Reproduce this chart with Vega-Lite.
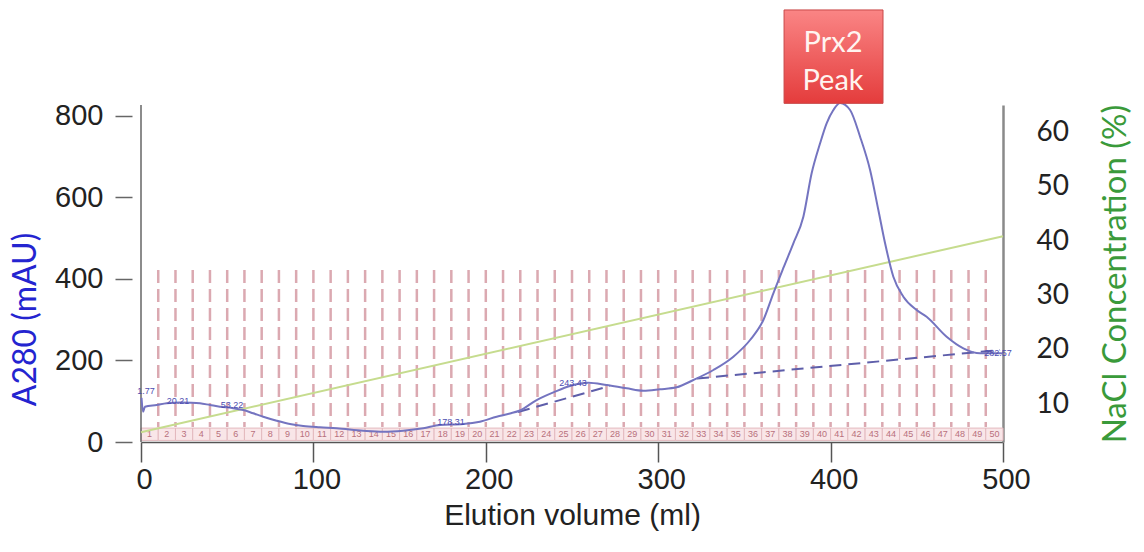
{
  "$schema": "https://vega.github.io/schema/vega-lite/v6.json",
  "width": 862,
  "height": 337,
  "autosize": {"type": "none"},
  "padding": {"left": 141, "top": 105, "right": 141, "bottom": 110},
  "background": "white",
  "config": {
    "view": {"stroke": null},
    "axis": {"grid": false},
    "axisX": {
      "domainColor": "#555555", "domainWidth": 1.5,
      "tickColor": "#555555", "tickWidth": 1.5, "tickSize": 20, "tickCount": 6,
      "labelFont": "Liberation Sans", "labelFontSize": 29, "labelColor": "#222222",
      "labelPadding": 3, "labelFlush": false, "labelOffset": 3,
      "titleFont": "Liberation Sans", "titleFontSize": 30, "titleFontWeight": "normal",
      "titleColor": "#222222", "titlePadding": 6
    }
  },
  "datasets": {
    "a280": [
      {"ml": 0.3, "a280": 108}, {"ml": 1.2, "a280": 74}, {"ml": 2.3, "a280": 86.5},
      {"ml": 9.1, "a280": 90.7}, {"ml": 14.9, "a280": 94.9}, {"ml": 22.6, "a280": 96.8},
      {"ml": 29.4, "a280": 96.3}, {"ml": 34.2, "a280": 94.9}, {"ml": 40.0, "a280": 90.7},
      {"ml": 45.8, "a280": 86.5}, {"ml": 52.8, "a280": 83.3}, {"ml": 59.3, "a280": 78.4},
      {"ml": 65.1, "a280": 70.3}, {"ml": 70.9, "a280": 62.0}, {"ml": 78.7, "a280": 52.2},
      {"ml": 86.4, "a280": 44.1}, {"ml": 94.1, "a280": 39.2}, {"ml": 103.8, "a280": 36.0},
      {"ml": 113.5, "a280": 33.6}, {"ml": 128.9, "a280": 27.7}, {"ml": 140.5, "a280": 25.2},
      {"ml": 152.1, "a280": 27.7}, {"ml": 163.7, "a280": 33.6}, {"ml": 173.4, "a280": 41.7},
      {"ml": 186.9, "a280": 44.1}, {"ml": 196.6, "a280": 49.8}, {"ml": 206.3, "a280": 62.0},
      {"ml": 214.0, "a280": 69.9}, {"ml": 219.8, "a280": 77.2}, {"ml": 229.5, "a280": 102.9},
      {"ml": 240.1, "a280": 123.3}, {"ml": 248.8, "a280": 137.3}, {"ml": 259.5, "a280": 145.3},
      {"ml": 270.1, "a280": 139.7}, {"ml": 281.7, "a280": 131.6}, {"ml": 291.4, "a280": 125.7},
      {"ml": 301.0, "a280": 129.2}, {"ml": 310.7, "a280": 134.1}, {"ml": 320.4, "a280": 152.0},
      {"ml": 332.0, "a280": 176.5}, {"ml": 343.6, "a280": 209.1}, {"ml": 353.3, "a280": 250.0},
      {"ml": 361.0, "a280": 299.0}, {"ml": 366.8, "a280": 364.5}, {"ml": 372.6, "a280": 426.5},
      {"ml": 378.4, "a280": 487.0}, {"ml": 384.2, "a280": 552.2}, {"ml": 389.0, "a280": 658.6},
      {"ml": 393.9, "a280": 732.1}, {"ml": 397.7, "a280": 781.1}, {"ml": 401.6, "a280": 813.7},
      {"ml": 405.5, "a280": 830.9}, {"ml": 411.3, "a280": 813.7}, {"ml": 417.1, "a280": 748.3},
      {"ml": 422.9, "a280": 666.7}, {"ml": 427.7, "a280": 568.6}, {"ml": 431.6, "a280": 487.0},
      {"ml": 436.4, "a280": 405.2}, {"ml": 442.2, "a280": 356.1}, {"ml": 449.9, "a280": 323.5},
      {"ml": 455.7, "a280": 307.1}, {"ml": 467.3, "a280": 258.1}, {"ml": 477.0, "a280": 229.7},
      {"ml": 486.7, "a280": 217.4}, {"ml": 498.3, "a280": 217.4}, {"ml": 500.0, "a280": 216.9}
    ],
    "baseline": [
      {"seg": "a", "ml": 218.7, "a280": 73.5}, {"seg": "a", "ml": 272.0, "a280": 137.3},
      {"seg": "b", "ml": 322.5, "a280": 155.6}, {"seg": "b", "ml": 498.3, "a280": 225.5}
    ],
    "nacl": [
      {"ml": 0, "nacl": 4.87}, {"ml": 500, "nacl": 40.92}
    ],
    "labels": [
      {"ml": 2.9, "a280": 125, "label": "1.77"},
      {"ml": 21.5, "a280": 100, "label": "20.21"},
      {"ml": 52.8, "a280": 90, "label": "53.22"},
      {"ml": 179.8, "a280": 49, "label": "178.31"},
      {"ml": 250.6, "a280": 145, "label": "243.43"},
      {"ml": 497.1, "a280": 218, "label": "282.57"}
    ],
    "fractions": [
      {"frac": 1, "start": 0, "end": 10, "mid": 5}, {"frac": 2, "start": 10, "end": 20, "mid": 15},
      {"frac": 3, "start": 20, "end": 30, "mid": 25}, {"frac": 4, "start": 30, "end": 40, "mid": 35},
      {"frac": 5, "start": 40, "end": 50, "mid": 45}, {"frac": 6, "start": 50, "end": 60, "mid": 55},
      {"frac": 7, "start": 60, "end": 70, "mid": 65}, {"frac": 8, "start": 70, "end": 80, "mid": 75},
      {"frac": 9, "start": 80, "end": 90, "mid": 85}, {"frac": 10, "start": 90, "end": 100, "mid": 95},
      {"frac": 11, "start": 100, "end": 110, "mid": 105}, {"frac": 12, "start": 110, "end": 120, "mid": 115},
      {"frac": 13, "start": 120, "end": 130, "mid": 125}, {"frac": 14, "start": 130, "end": 140, "mid": 135},
      {"frac": 15, "start": 140, "end": 150, "mid": 145}, {"frac": 16, "start": 150, "end": 160, "mid": 155},
      {"frac": 17, "start": 160, "end": 170, "mid": 165}, {"frac": 18, "start": 170, "end": 180, "mid": 175},
      {"frac": 19, "start": 180, "end": 190, "mid": 185}, {"frac": 20, "start": 190, "end": 200, "mid": 195},
      {"frac": 21, "start": 200, "end": 210, "mid": 205}, {"frac": 22, "start": 210, "end": 220, "mid": 215},
      {"frac": 23, "start": 220, "end": 230, "mid": 225}, {"frac": 24, "start": 230, "end": 240, "mid": 235},
      {"frac": 25, "start": 240, "end": 250, "mid": 245}, {"frac": 26, "start": 250, "end": 260, "mid": 255},
      {"frac": 27, "start": 260, "end": 270, "mid": 265}, {"frac": 28, "start": 270, "end": 280, "mid": 275},
      {"frac": 29, "start": 280, "end": 290, "mid": 285}, {"frac": 30, "start": 290, "end": 300, "mid": 295},
      {"frac": 31, "start": 300, "end": 310, "mid": 305}, {"frac": 32, "start": 310, "end": 320, "mid": 315},
      {"frac": 33, "start": 320, "end": 330, "mid": 325}, {"frac": 34, "start": 330, "end": 340, "mid": 335},
      {"frac": 35, "start": 340, "end": 350, "mid": 345}, {"frac": 36, "start": 350, "end": 360, "mid": 355},
      {"frac": 37, "start": 360, "end": 370, "mid": 365}, {"frac": 38, "start": 370, "end": 380, "mid": 375},
      {"frac": 39, "start": 380, "end": 390, "mid": 385}, {"frac": 40, "start": 390, "end": 400, "mid": 395},
      {"frac": 41, "start": 400, "end": 410, "mid": 405}, {"frac": 42, "start": 410, "end": 420, "mid": 415},
      {"frac": 43, "start": 420, "end": 430, "mid": 425}, {"frac": 44, "start": 430, "end": 440, "mid": 435},
      {"frac": 45, "start": 440, "end": 450, "mid": 445}, {"frac": 46, "start": 450, "end": 460, "mid": 455},
      {"frac": 47, "start": 460, "end": 470, "mid": 465}, {"frac": 48, "start": 470, "end": 480, "mid": 475},
      {"frac": 49, "start": 480, "end": 490, "mid": 485}, {"frac": 50, "start": 490, "end": 500, "mid": 495}
    ]
  },
  "layer": [
    {
      "layer": [
        {
          "data": {"name": "fractions"},
          "mark": {"type": "rect", "fill": "#f9e6e8", "stroke": "#e3b9be", "strokeWidth": 1},
          "encoding": {
            "x": {"field": "start", "type": "quantitative", "title": "Elution volume (ml)", "scale": {"domain": [0, 500], "nice": false, "zero": false}},
            "x2": {"field": "end"},
            "y": {"datum": 34.1, "type": "quantitative", "title": "A280 (mAU)", "scale": {"domain": [0, 826], "nice": false, "zero": false},
              "axis": {
                "orient": "left", "offset": 9, "domain": false, "ticks": true, "tickSize": 17,
                "tickColor": "#666666", "tickWidth": 1.5, "values": [0, 200, 400, 600, 800],
                "labelFont": "Liberation Sans", "labelFontSize": 29, "labelColor": "#222222", "labelPadding": 12,
                "title": "A280 (mAU)", "titleFont": "Lato", "titleFontSize": 32, "titleFontWeight": "normal",
                "titleColor": "#2424d0", "titlePadding": 12, "titleY": 214
              }},
            "y2": {"datum": 3.9}
          }
        },
        {
          "data": {"name": "fractions"},
          "mark": {"type": "text", "font": "Liberation Sans", "fontSize": 9, "color": "#b8707c", "align": "center", "baseline": "middle"},
          "encoding": {
            "x": {"field": "mid", "type": "quantitative", "title": "Elution volume (ml)", "scale": {"domain": [0, 500], "nice": false, "zero": false}},
            "y": {"datum": 19.6, "type": "quantitative", "title": "A280 (mAU)", "scale": {"domain": [0, 826], "nice": false, "zero": false}},
            "text": {"field": "frac", "type": "nominal"}
          }
        },
        {
          "data": {"name": "fractions"},
          "transform": [{"filter": "datum.frac < 50"}],
          "mark": {"type": "rule", "color": "#dba9b1", "strokeWidth": 2.5, "strokeDash": [13, 6]},
          "encoding": {
            "x": {"field": "end", "type": "quantitative", "title": "Elution volume (ml)", "scale": {"domain": [0, 500], "nice": false, "zero": false}},
            "y": {"datum": 421.6, "type": "quantitative", "title": "A280 (mAU)", "scale": {"domain": [0, 826], "nice": false, "zero": false}},
            "y2": {"datum": 36.8}
          }
        },
        {
          "data": {"values": [{}]},
          "mark": {"type": "rule", "color": "#666666", "strokeWidth": 1.5},
          "encoding": {
            "x": {"datum": 0, "type": "quantitative", "title": "Elution volume (ml)", "scale": {"domain": [0, 500], "nice": false, "zero": false}},
            "y": {"datum": 0, "type": "quantitative", "title": "A280 (mAU)", "scale": {"domain": [0, 826], "nice": false, "zero": false}},
            "y2": {"datum": 826}
          }
        }
      ]
    },
    {
      "data": {"name": "nacl"},
      "mark": {"type": "line", "color": "#c6dc8e", "strokeWidth": 2},
      "encoding": {
        "x": {"field": "ml", "type": "quantitative", "title": "Elution volume (ml)", "scale": {"domain": [0, 500], "nice": false, "zero": false}},
        "y": {"field": "nacl", "type": "quantitative", "scale": {"domain": [3.07, 65.04], "nice": false, "zero": false},
          "axis": {
            "orient": "right", "domain": true, "domainColor": "#8a8a8a", "domainWidth": 2.5, "ticks": false,
            "values": [10, 20, 30, 40, 50, 60],
            "labelFont": "Lato", "labelFontSize": 28, "labelColor": "#222222", "labelPadding": 33, "labelAlign": "left",
            "title": "NaCl Concentration (%)", "titleFont": "Lato", "titleFontSize": 33, "titleFontWeight": "normal",
            "titleColor": "#3a9a3a", "titleAngle": 270, "titlePadding": 64
          }}
      }
    },
    {
      "layer": [
        {
          "data": {"name": "baseline"},
          "mark": {"type": "line", "color": "#5e5eaa", "strokeWidth": 2, "strokeDash": [12, 7]},
          "encoding": {
            "x": {"field": "ml", "type": "quantitative", "title": "Elution volume (ml)", "scale": {"domain": [0, 500], "nice": false, "zero": false}},
            "y": {"field": "a280", "type": "quantitative", "scale": {"domain": [0, 826], "nice": false, "zero": false}, "axis": null},
            "detail": {"field": "seg"}
          }
        },
        {
          "data": {"name": "a280"},
          "mark": {"type": "line", "color": "#7474c0", "strokeWidth": 2, "interpolate": "monotone"},
          "encoding": {
            "x": {"field": "ml", "type": "quantitative", "title": "Elution volume (ml)", "scale": {"domain": [0, 500], "nice": false, "zero": false}},
            "y": {"field": "a280", "type": "quantitative", "scale": {"domain": [0, 826], "nice": false, "zero": false}, "axis": null}
          }
        },
        {
          "data": {"name": "labels"},
          "mark": {"type": "text", "font": "Liberation Sans", "fontSize": 9, "color": "#4c4cb0", "align": "center", "baseline": "middle"},
          "encoding": {
            "x": {"field": "ml", "type": "quantitative", "title": "Elution volume (ml)", "scale": {"domain": [0, 500], "nice": false, "zero": false}},
            "y": {"field": "a280", "type": "quantitative", "scale": {"domain": [0, 826], "nice": false, "zero": false}, "axis": null},
            "text": {"field": "label", "type": "nominal"}
          }
        },
        {
          "data": {"values": [{}]},
          "mark": {"type": "rect", "stroke": "#c94848", "strokeWidth": 1,
            "fill": {"gradient": "linear", "x1": 0, "y1": 0, "x2": 0, "y2": 1,
              "stops": [{"offset": 0, "color": "#fa8585"}, {"offset": 1, "color": "#e43c3c"}]}},
          "encoding": {
            "x": {"datum": 373.0, "type": "quantitative", "title": "Elution volume (ml)", "scale": {"domain": [0, 500], "nice": false, "zero": false}},
            "x2": {"datum": 430.4},
            "y": {"datum": 830, "type": "quantitative", "scale": {"domain": [0, 826], "nice": false, "zero": false}, "axis": null},
            "y2": {"datum": 1059}
          }
        },
        {
          "data": {"values": [{}]},
          "mark": {"type": "text", "font": "Lato", "fontSize": 29, "color": "#fff4f0", "align": "center", "baseline": "middle", "lineHeight": 38},
          "encoding": {
            "x": {"datum": 401.4, "type": "quantitative", "title": "Elution volume (ml)", "scale": {"domain": [0, 500], "nice": false, "zero": false}},
            "y": {"datum": 978, "type": "quantitative", "scale": {"domain": [0, 826], "nice": false, "zero": false}, "axis": null},
            "text": {"value": ["Prx2", "Peak"]}
          }
        }
      ]
    }
  ],
  "resolve": {"scale": {"y": "independent"}, "axis": {"y": "independent"}}
}
